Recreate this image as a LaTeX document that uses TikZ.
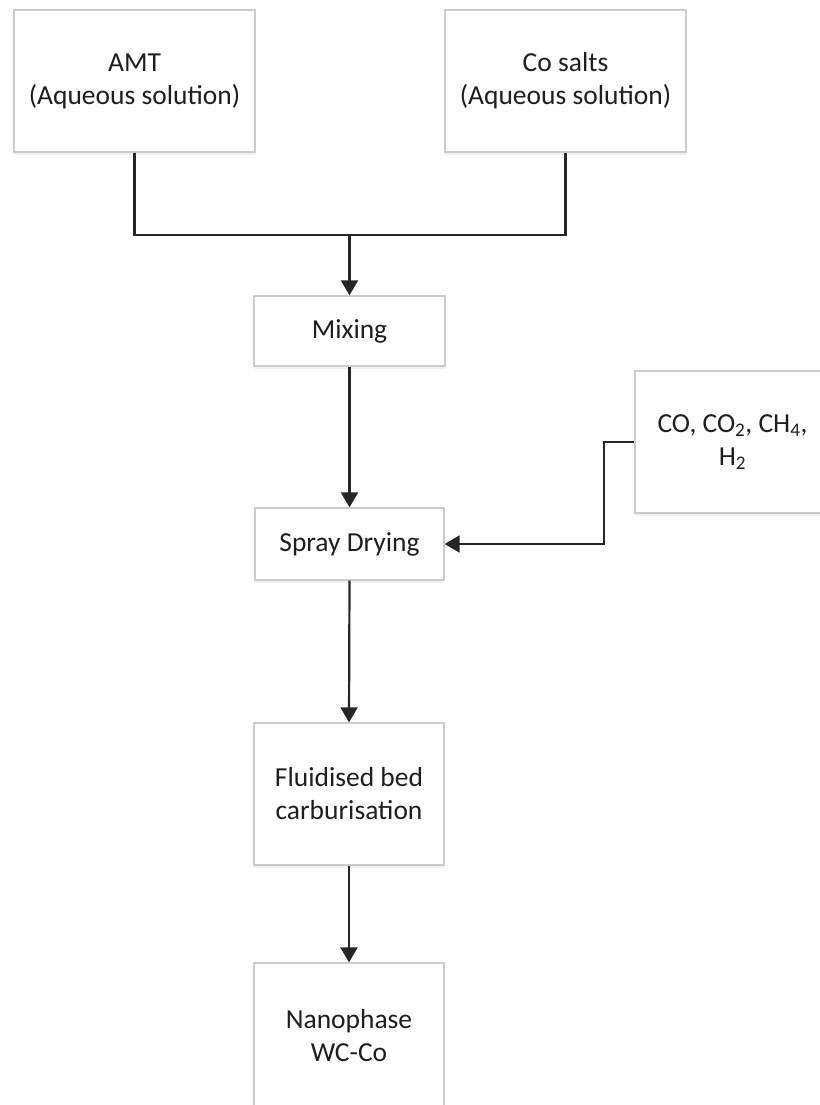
\documentclass[tikz,border=0pt]{standalone}
\usepackage{fontspec}
\setmainfont{Carlito}
\usetikzlibrary{arrows.meta,shadows}
\definecolor{boxline}{HTML}{CCCCCC}
\definecolor{wire}{HTML}{262626}
\definecolor{ink}{HTML}{1E1E1E}
\begin{document}
\begin{tikzpicture}[x=1pt,y=-1pt,
  procbox/.style={draw=boxline,line width=1.3pt,fill=white,
    drop shadow={opacity=0.12,shadow xshift=0pt,shadow yshift=-3pt},
    inner sep=0pt,align=center,text=ink,
    font=\fontsize{27.5}{33}\selectfont},
  flow/.style={draw=wire,line width=2.2pt},
  arr/.style={flow,-{Triangle[length=15pt,width=17pt]}}]
\useasboundingbox (0,0) rectangle (819,1105);
% raw materials
\node[procbox,minimum width=241pt,minimum height=142pt] (amt) at (134.5,81)
  {AMT\\(Aqueous solution)};
\node[procbox,minimum width=241pt,minimum height=142pt] (cosalt) at (565.5,81)
  {Co salts\\(Aqueous solution)};
% process chain
\node[procbox,minimum width=191pt,minimum height=70pt] (mix) at (349.5,331) {Mixing};
\node[procbox,minimum width=189pt,minimum height=72pt] (spray) at (349.5,544) {Spray Drying};
\node[procbox,minimum width=190pt,minimum height=142pt] (fluid) at (349,794)
  {Fluidised bed\\carburisation};
\node[procbox,minimum width=190pt,minimum height=146pt] (nano) at (349,1036)
  {Nanophase\\WC-Co};
% carburising gases
\node[procbox,minimum width=195pt,minimum height=142pt] (gas) at (732.5,442)
  {CO, CO\textsubscript{2}, CH\textsubscript{4},\\H\textsubscript{2}};
% connectors
\coordinate (join) at (349.5,235);
\draw[flow] (amt.south) |- (join) -| (cosalt.south);
\draw[arr] (join) -- (mix.north);
\draw[arr] (mix.south) -- (spray.north);
\draw[arr] (gas.west) -- ++(-30,0) |- (spray.east);
\draw[arr] (spray.south) -- (fluid.north);
\draw[arr] (fluid.south) -- (nano.north);
\end{tikzpicture}
\end{document}
